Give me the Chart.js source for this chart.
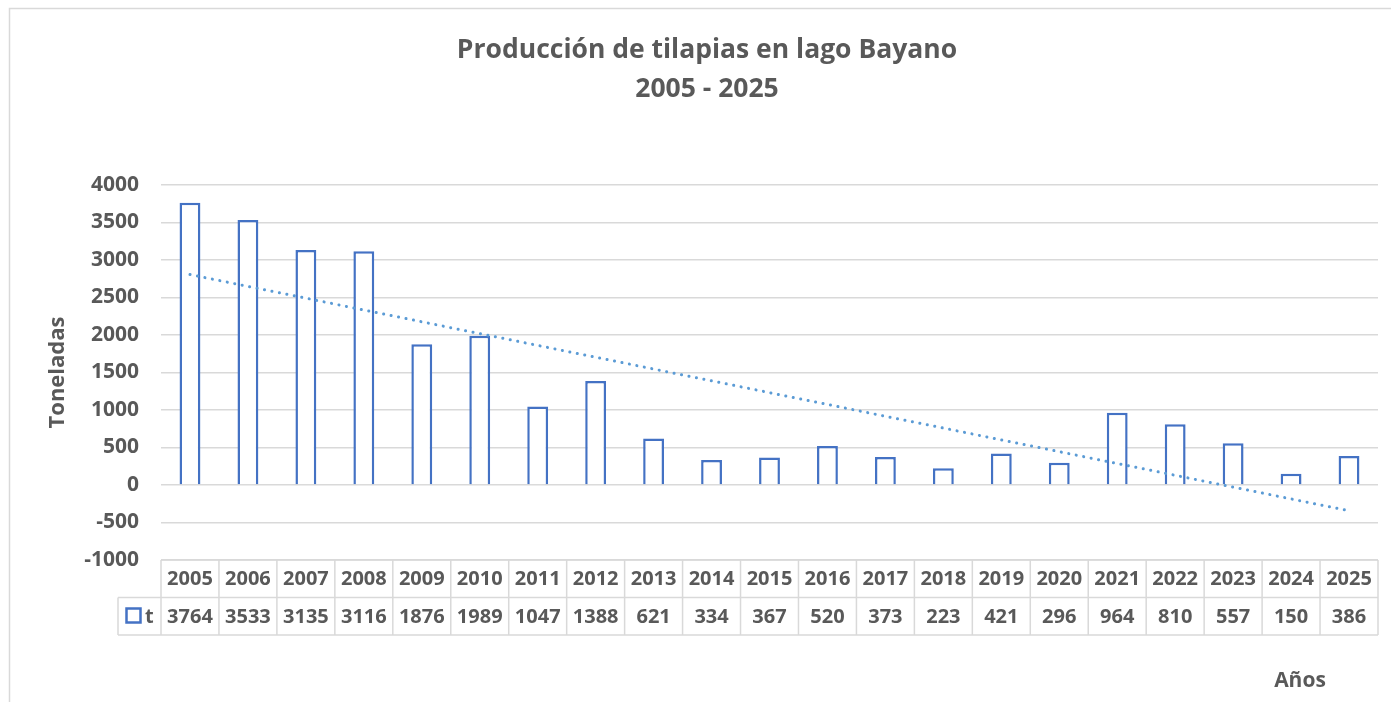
<!DOCTYPE html>
<html>
<head>
<meta charset="utf-8">
<script src="https://cdn.jsdelivr.net/npm/chart.js@4.4.1/dist/chart.umd.min.js"></script>
<style>
  html, body { margin: 0; padding: 0; background: #fff; }
  #wrap { width: 1391px; height: 702px; position: relative; }
</style>
</head>
<body>
<div id="wrap"><canvas id="chart"></canvas></div>
<script>
// Datos
const years = ["2005", "2006", "2007", "2008", "2009", "2010", "2011", "2012", "2013", "2014", "2015",
  "2016", "2017", "2018", "2019", "2020", "2021", "2022", "2023", "2024", "2025"];
const toneladas = [3764, 3533, 3135, 3116, 1876, 1989, 1047, 1388, 621, 334, 367,
  520, 373, 223, 421, 296, 964, 810, 557, 150, 386];
// extremos de la línea de tendencia (lineal)
const trendYears = ["2005", "2025"];
const trendValues = [2806, -343];
const yTicks = [-1000, -500, 0, 500, 1000, 1500, 2000, 2500, 3000, 3500, 4000];
const titleLines = ["Producción de tilapias en lago Bayano", "2005 - 2025"];

const FONT = "'Open Sans', sans-serif";
const GREY = "#595959";
const LINE = "#D9D9D9";
const BLUE = "#4472C4";

// marco, título y tabla de datos debajo del área
const tablePlugin = {
  id: "dataTable",
  beforeDraw(chart) {
    const ctx = chart.ctx;
    ctx.save();
    ctx.strokeStyle = LINE;
    ctx.lineWidth = 1.5;
    ctx.strokeRect(9.5, 8.5, 1400, 720);

    ctx.fillStyle = GREY;
    ctx.font = "bold 26.5px " + FONT;
    ctx.textAlign = "center";
    ctx.textBaseline = "middle";
    titleLines.forEach((t, i) => ctx.fillText(t, 707, 50 + i * 39));
    ctx.restore();
  },
  afterDraw(chart) {
    const ctx = chart.ctx;
    const x = chart.scales.x;
    const area = chart.chartArea;
    const colW = (area.right - area.left) / years.length;
    const top = area.bottom;
    const rowH = 37.5;
    const labelLeft = 118;

    ctx.save();
    ctx.strokeStyle = LINE;
    ctx.lineWidth = 1.5;
    ctx.beginPath();
    // horizontales
    ctx.moveTo(area.left, top); ctx.lineTo(area.right, top);
    ctx.moveTo(labelLeft, top + rowH); ctx.lineTo(area.right, top + rowH);
    ctx.moveTo(labelLeft, top + 2 * rowH); ctx.lineTo(area.right, top + 2 * rowH);
    // verticales
    for (let i = 0; i <= years.length; i++) {
      const cx = area.left + i * colW;
      ctx.moveTo(cx, top); ctx.lineTo(cx, top + 2 * rowH);
    }
    ctx.moveTo(labelLeft, top + rowH); ctx.lineTo(labelLeft, top + 2 * rowH);
    ctx.stroke();

    ctx.fillStyle = GREY;
    ctx.font = "bold 20px " + FONT;
    ctx.textAlign = "center";
    ctx.textBaseline = "middle";
    years.forEach((yr, i) => {
      const cx = x.getPixelForValue(i);
      ctx.fillText(yr, cx, top + rowH / 2 + 1);
      ctx.fillText(String(toneladas[i]), cx, top + rowH * 1.5 + 1);
    });

    // clave de la serie
    ctx.strokeStyle = BLUE;
    ctx.lineWidth = 2.5;
    ctx.strokeRect(126.5, top + rowH + 11, 14, 14);
    ctx.textAlign = "left";
    ctx.fillText("t", 145, top + rowH * 1.5 + 1);

    // título del eje X
    ctx.textAlign = "center";
    ctx.font = "bold 21px " + FONT;
    ctx.fillText("Años", 1300, 681);
    ctx.restore();
  }
};

new Chart(document.getElementById("chart"), {
  data: {
    labels: years,
    datasets: [
      {
        type: "line",
        label: "Lineal (t)",
        data: trendYears.map((yr, i) => ({ x: yr, y: trendValues[i] })),
        borderColor: "#5B9BD5",
        borderWidth: 3,
        borderDash: [0.1, 7.5],
        borderCapStyle: "round",
        pointRadius: 0,
        fill: false,
        order: 0,
      },
      {
        type: "bar",
        label: "t",
        data: toneladas,
        backgroundColor: "#ffffff",
        borderColor: BLUE,
        borderWidth: 2.5,
        barPercentage: 0.36,
        categoryPercentage: 1,
        order: 1,
      },
    ],
  },
  options: {
    responsive: true,
    maintainAspectRatio: false,
    animation: false,
    layout: { padding: { left: 0, right: 13, top: 185, bottom: 142 } },
    plugins: {
      legend: { display: false },
      tooltip: { enabled: false },
      title: { display: false },
    },
    scales: {
      x: {
        display: false,
        offset: true,
      },
      y: {
        min: -1000,
        max: 4000,
        afterBuildTicks: (scale) => { scale.ticks = yTicks.map((v) => ({ value: v })); },
        afterFit: (scale) => { scale.width = 161; },
        border: { display: false },
        grid: { color: LINE, lineWidth: 1.5, drawTicks: false },
        ticks: {
          padding: 22,
          color: GREY,
          font: { family: FONT, size: 21, weight: "bold" },
          callback: (v) => String(v),
        },
        title: {
          display: true,
          text: "Toneladas",
          color: GREY,
          font: { family: FONT, size: 22, weight: "bold" },
          padding: { top: 45, bottom: 0 },
        },
      },
    },
  },
  plugins: [tablePlugin],
});
</script>
</body>
</html>
